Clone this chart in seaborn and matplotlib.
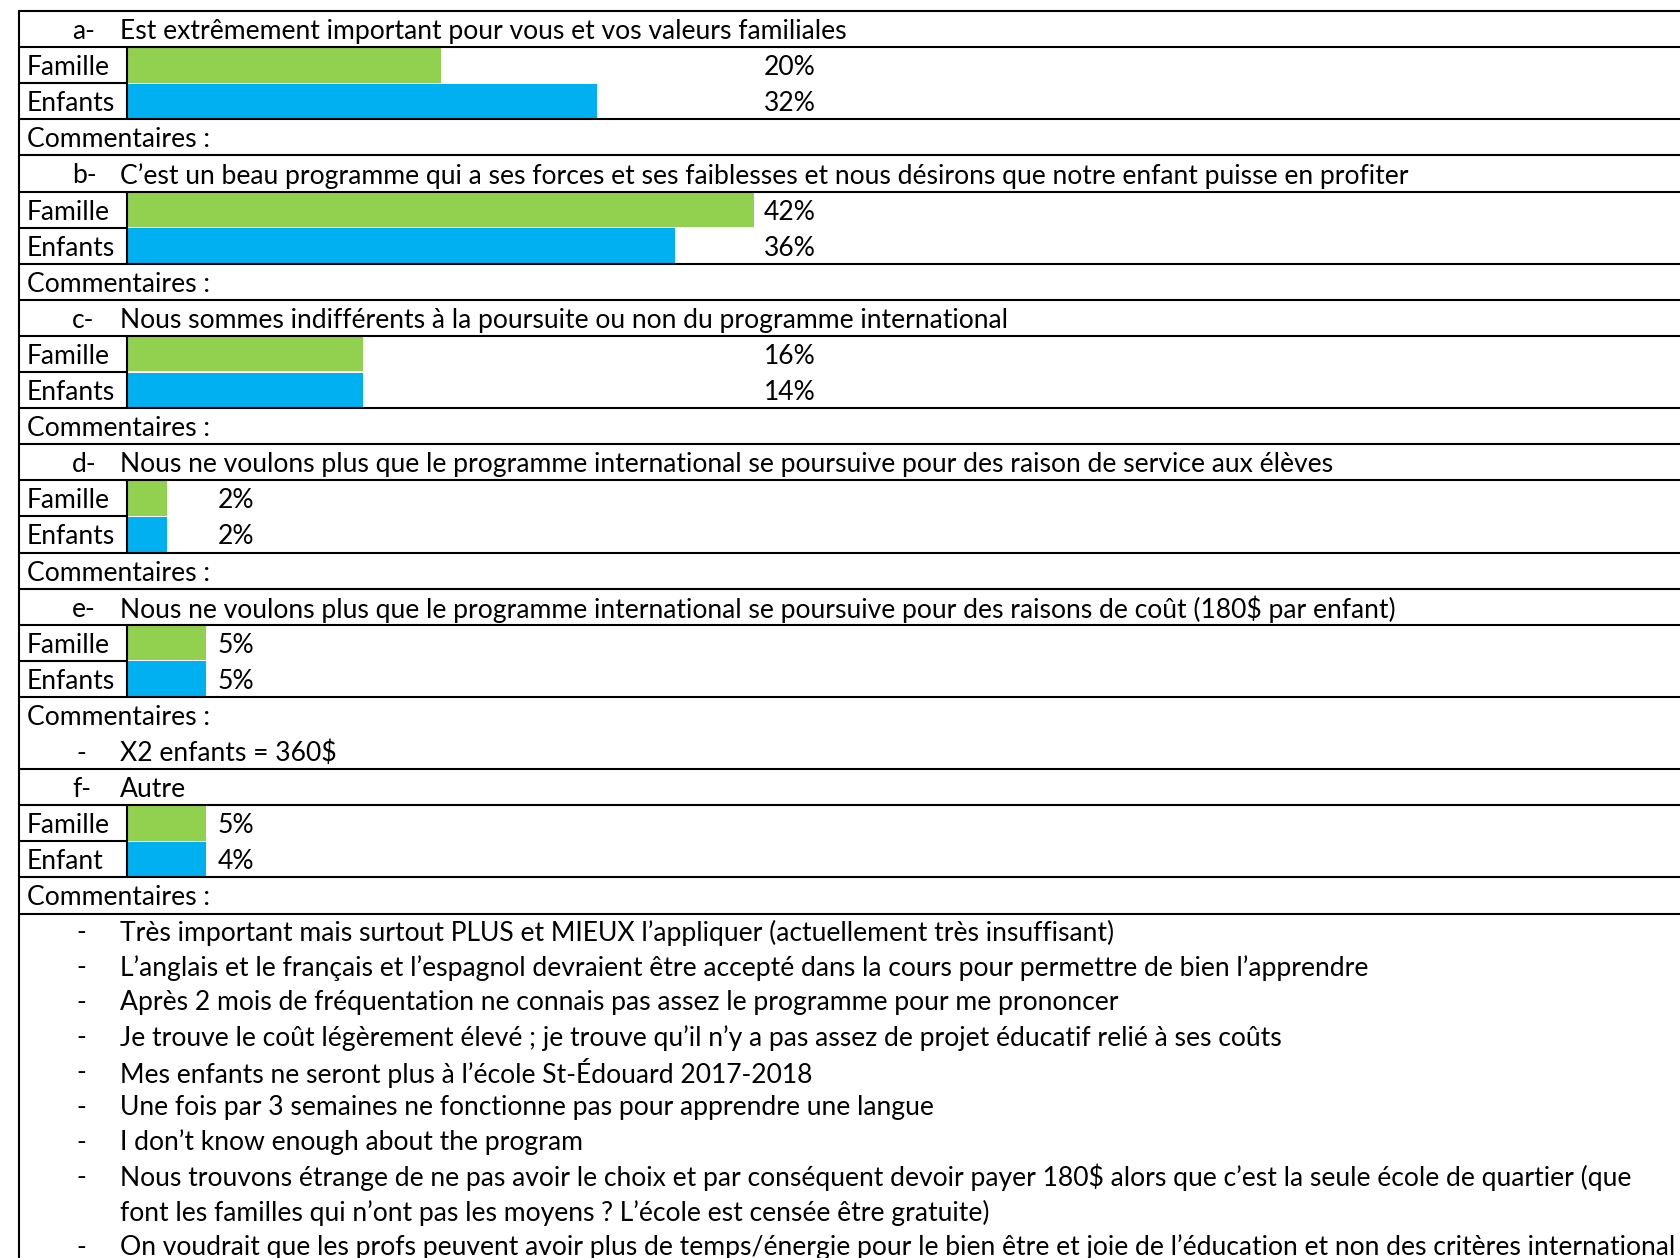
import pandas as pd
import matplotlib.pyplot as plt
import seaborn as sns

sns.set_theme(style='white')
plt.rcParams['font.family'] = ['Lato', 'DejaVu Sans']

# Questions and answers
letters = ['a-', 'b-', 'c-', 'd-', 'e-', 'f-']
questions = [
    'Est extrêmement important pour vous et vos valeurs familiales',
    'C’est un beau programme qui a ses forces et ses faiblesses et nous désirons que notre enfant puisse en profiter',
    'Nous sommes indifférents à la poursuite ou non du programme international',
    'Nous ne voulons plus que le programme international se poursuive pour des raison de service aux élèves',
    'Nous ne voulons plus que le programme international se poursuive pour des raisons de coût (180$ par enfant)',
    'Autre',
]
pct_famille = ['20%', '42%', '16%', '2%', '5%', '5%']
pct_enfants = ['32%', '36%', '14%', '2%', '5%', '4%']
# bar lengths as drawn in the document (not proportional to the %)
bar_famille = [4, 8, 3, 0.5, 1, 1]
bar_enfants = [6, 7, 3, 0.5, 1, 1]
enfant_label = ['Enfants', 'Enfants', 'Enfants', 'Enfants', 'Enfants', 'Enfant']

comments_e = ['X2 enfants = 360$']
comments_f = [
    'Très important mais surtout PLUS et MIEUX l’appliquer (actuellement très insuffisant)',
    'L’anglais et le français et l’espagnol devraient être accepté dans la cours pour permettre de bien l’apprendre',
    'Après 2 mois de fréquentation ne connais pas assez le programme pour me prononcer',
    'Je trouve le coût légèrement élevé ; je trouve qu’il n’y a pas assez de projet éducatif relié à ses coûts',
    'Mes enfants ne seront plus à l’école St-Édouard 2017-2018',
    'Une fois par 3 semaines ne fonctionne pas pour apprendre une langue',
    'I don’t know enough about the program',
    'Nous trouvons étrange de ne pas avoir le choix et par conséquent devoir payer 180$ alors que c’est la seule école de quartier (que\n'
    'font les familles qui n’ont pas les moyens ? L’école est censée être gratuite)',
    'On voudrait que les profs peuvent avoir plus de temps/énergie pour le bien être et joie de l’éducation et non des critères international',
]

# layout (pixels)
W, H = 1681, 1258
TOP = 11
ROW = 36.1
LEFT = 19
DIV = 127
BAR0 = 128
UNIT = 78.2
LINE = 34.95
DY = 2.5
label_right = [816, 816, 816, 254, 254, 254]
green = '#92D050'
blue = '#00B0F0'

fig = plt.figure(figsize=(W / 100, H / 100), dpi=100)
ax = fig.add_axes([0, 0, 1, 1])
ax2 = fig.add_axes([0, 0, 1, 1])
ax2.patch.set_alpha(0)

# fit font size so the longest line has the document's width
renderer = fig.canvas.get_renderer()
probe = ax2.text(0, 0, comments_f[-1], fontsize=20, parse_math=False)
width = probe.get_window_extent(renderer).width
probe.remove()
FS = 20 * 1559 / width

# row structure
rows_y = []
bar_rows = []
k = 0
for i in range(len(questions)):
    bar_rows.append((k + 1, k + 2))
    rows_y.append((k, k + 1, k + 2, k + 3))
    k += 4
    if letters[i] == 'e-':
        k += len(comments_e)


def center(r):
    return TOP + (r + 0.5) * ROW


def edge(r):
    return TOP + r * ROW


# bars
recs = []
for i in range(len(questions)):
    fk, ek = bar_rows[i]
    recs.append({'y': center(fk), 'len': bar_famille[i], 'serie': 'Famille'})
    recs.append({'y': center(ek), 'len': bar_enfants[i], 'serie': 'Enfants'})
df = pd.DataFrame(recs)
sns.barplot(data=df, x='len', y='y', hue='serie', orient='h', native_scale=True,
            palette={'Famille': green, 'Enfants': blue}, width=0.97, dodge=False,
            legend=False, ax=ax, saturation=1, linewidth=0)
ax.set_xlim(-BAR0 / UNIT, (W - BAR0) / UNIT)
ax.set_ylim(H, 0)
ax.axis('off')

ax2.set_xlim(0, W)
ax2.set_ylim(H, 0)
ax2.axis('off')

lw = 1.5
kw = dict(fontsize=FS, va='center', color='black', parse_math=False)

# table lines
bounds = []
for i in range(len(questions)):
    tk, fk, ek, ck = rows_y[i]
    extra = len(comments_e) if letters[i] == 'e-' else 0
    bounds += [edge(tk), edge(fk), edge(ck), edge(ck + 1 + extra)]
    ax2.plot([LEFT, DIV], [edge(ek), edge(ek)], color='black', lw=lw)
    ax2.plot([DIV, DIV], [edge(fk), edge(ck)], color='black', lw=lw)
for b in sorted(set(round(v, 2) for v in bounds)):
    ax2.plot([LEFT, W], [b, b], color='black', lw=lw)
ax2.plot([LEFT, LEFT], [TOP, H], color='black', lw=lw)

# texts
for i in range(len(questions)):
    tk, fk, ek, ck = rows_y[i]
    ax2.text(72, center(tk) + DY, letters[i], **kw)
    ax2.text(120, center(tk) + DY, questions[i], **kw)
    ax2.text(27, center(fk) + DY, 'Famille', **kw)
    ax2.text(27, center(ek) + DY, enfant_label[i], **kw)
    ax2.text(label_right[i], center(fk) + DY, pct_famille[i], ha='right', **kw)
    ax2.text(label_right[i], center(ek) + DY, pct_enfants[i], ha='right', **kw)
    if letters[i] != 'f-':
        ax2.text(27, center(ck) + DY, 'Commentaires :', **kw)
    if letters[i] == 'e-':
        for j, c in enumerate(comments_e):
            ax2.text(76, center(ck + 1 + j) + DY, '-', **kw)
            ax2.text(120, center(ck + 1 + j) + DY, c, **kw)

# last comment block
y0 = edge(rows_y[-1][3]) + 18 + DY
ax2.text(27, y0, 'Commentaires :', **kw)
n = 1
for c in comments_f:
    ax2.text(76, y0 + n * LINE, '-', **kw)
    for p in c.split('\n'):
        ax2.text(120, y0 + n * LINE, p, **kw)
        n += 1

fig.savefig('out.png', dpi=100)
